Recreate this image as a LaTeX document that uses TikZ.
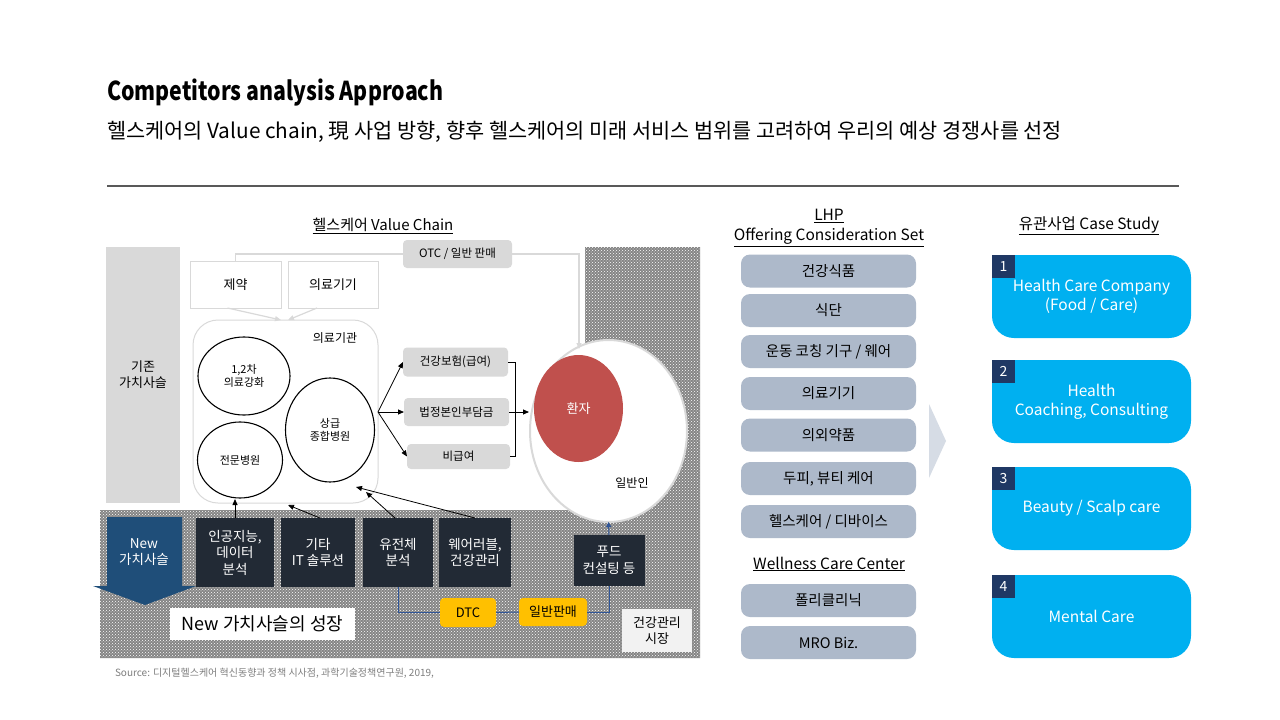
\documentclass[tikz,border=0pt]{standalone}
\usepackage{fontspec}
\setmainfont{Noto Sans CJK KR}
\usetikzlibrary{arrows.meta,patterns,shapes.geometric}
\definecolor{pillc}{HTML}{ADB9CA}
\definecolor{darkbox}{HTML}{222A35}
\definecolor{newblue}{HTML}{1F4E79}
\definecolor{tagc}{HTML}{1F3864}
\definecolor{caseblue}{HTML}{00B0F0}
\definecolor{patred}{HTML}{C0504D}
\definecolor{lgray}{HTML}{D9D9D9}
\definecolor{ylw}{HTML}{FFC000}
\definecolor{srcgray}{HTML}{7F7F7F}
\definecolor{rulec}{HTML}{595959}
\definecolor{hatchc}{HTML}{858585}
\definecolor{navyline}{HTML}{2F5597}
\definecolor{chev}{HTML}{D6DCE5}
\definecolor{mktc}{HTML}{F2F2F2}
\newcommand{\fs}[2]{\fontsize{#1}{#2}\selectfont}
\tikzset{
  every node/.style={inner sep=0pt, outer sep=0pt},
  pill/.style={fill=pillc, rounded corners=9pt, minimum width=175pt, minimum height=33pt, font=\fs{14.5}{17}},
  darkb/.style={fill=darkbox, text=white, align=center, font=\fs{13.5}{16.5}},
  gbox/.style={fill=lgray, rounded corners=4pt, font=\fs{11.5}{14}},
  wbox/.style={draw=lgray, line width=1pt, fill=white, font=\fs{13}{16}},
  ring/.style={draw=black, line width=1.1pt, ellipse, align=center, font=\fs{11}{13.5}},
  casebox/.style={fill=caseblue, rounded corners=22pt, minimum width=199pt, minimum height=83pt, text=white, align=center, font=\fs{15.5}{19}},
  tagbox/.style={fill=tagc, text=white, minimum width=23pt, minimum height=23pt, font=\fs{14}{16}},
  ybox/.style={fill=ylw, rounded corners=4pt, font=\fs{13}{16}},
  hd/.style={font=\fs{15.5}{20}, align=center},
  darr/.style={-{Triangle[length=6pt,width=5pt]}, line width=0.8pt, black},
  garr/.style={-{Triangle[length=6pt,width=5pt]}, line width=1.2pt, lgray},
  narr/.style={-{Triangle[length=5pt,width=5pt]}, line width=1pt, navyline},
  navyl/.style={line width=1pt, navyline},
}
\begin{document}
\begin{tikzpicture}[x=1pt,y=-1pt]
\useasboundingbox (0,0) rectangle (1280,720);
\fill[white] (0,0) rectangle (1280,720);

% titles
\node[anchor=base west, xscale=0.82, font=\bfseries\fs{26}{30}] (title) at (107,100) {Competitors analysis Approach};
\node[anchor=base west, font=\fs{20.8}{25}] (sub) at (107,138) {헬스케어의 Value chain, 現 사업 방향, 향후 헬스케어의 미래 서비스 범위를 고려하여 우리의 예상 경쟁사를 선정};
\draw[rulec, line width=1.5pt] (107,186) -- (1179,186);

% ---------------- value chain ----------------
\node[font=\fs{15}{18}] (vch) at (383,226) {\underline{헬스케어 Value Chain}};

% hatched market area
\path[fill=hatchc, postaction={pattern=crosshatch dots, pattern color=white}]
  (100,510) -- (585,510) -- (585,247) -- (700,247) -- (700,658) -- (100,658) -- cycle;

% existing value chain block
\node[fill=lgray, minimum width=74pt, minimum height=256pt, align=center, font=\fs{13}{16}] (old) at (143,375) {기존\\가치사슬};

% top boxes
\node[wbox, minimum width=91pt, minimum height=47pt] (jeyak) at (235.5,284.5) {제약};
\node[wbox, minimum width=90pt, minimum height=47pt] (medev) at (333,284.5) {의료기기};
\node[gbox, minimum width=109pt, minimum height=28pt] (otc) at (457.5,254) {OTC / 일반 판매};

% medical institution
\node[draw=lgray, line width=1pt, rounded corners=25pt, minimum width=185pt, minimum height=183pt] (medinst) at (285.5,411.5) {};
\node[font=\fs{12}{14}] (medlbl) at (335,338) {의료기관};
\node[ring, minimum width=92pt, minimum height=78pt] (c12) at (244,376) {1,2차\\의료강화};
\node[ring, minimum width=85pt, minimum height=76pt] (spec) at (240,460) {전문병원};
\node[ring, minimum width=89pt, minimum height=104pt] (tert) at (330,430) {상급\\종합병원};

% insurance boxes
\node[gbox, minimum width=105pt, minimum height=29pt] (ins) at (455.5,362) {건강보험(급여)};
\node[gbox, minimum width=105pt, minimum height=28pt] (selfp) at (456.5,412) {법정본인부담금};
\node[gbox, minimum width=103pt, minimum height=25pt] (nonins) at (458.5,456.5) {비급여};

% people
\node[ellipse, fill=white, draw=lgray, line width=2pt, minimum width=157pt, minimum height=182pt] (gen) at (608.5,431) {};
\node[ellipse, fill=patred, minimum width=89pt, minimum height=107pt, text=white, font=\fs{13}{16}] (pat) at (578.5,408.5) {환자};
\node[font=\fs{12}{14}] (genlbl) at (632,483) {일반인};

% flows in the upper part
\draw[lgray, line width=1.2pt] (jeyak.north) |- (otc.west);
\coordinate (otcin) at (579,349);
\draw[garr] (otc.east) -| (otcin);
\coordinate (mc1) at (281,320);
\coordinate (mc2) at (288,320);
\draw[garr] ([xshift=-8pt]jeyak.south) -- (mc1);
\draw[garr] ([xshift=-16pt]medev.south) -- (mc2);

\coordinate (fan) at (378,412);
\draw[darr] (fan) -- (ins.west);
\draw[darr] (fan) -- (selfp.west);
\draw[darr] (fan) -- (nonins.west);
\coordinate (br) at (515,412);
\coordinate (genin) at (529,412);
\draw[line width=0.8pt] (ins.east) -| (br);
\draw[line width=0.8pt] (nonins.east) -| (br);
\draw[line width=0.8pt] (selfp.east) -- (br);
\draw[darr] (br) -- (genin);

% new value chain
\fill[newblue] (107,517) -- (182,517) -- (182,586) -- (196,586) -- (145,605) -- (93,586) -- (107,586) -- cycle;
\node[text=white, align=center, font=\fs{13.5}{16.5}] (newv) at (144,552) {New\\가치사슬};
\node[darkb, minimum width=78pt, minimum height=69pt] (ai) at (235,552.5) {인공지능,\\데이터\\분석};
\node[darkb, minimum width=74pt, minimum height=69pt] (it) at (318,552.5) {기타\\IT 솔루션};
\node[darkb, minimum width=70pt, minimum height=69pt] (gene) at (398,552.5) {유전체\\분석};
\node[darkb, minimum width=72pt, minimum height=69pt] (wear) at (475,552.5) {웨어러블,\\건강관리};
\node[darkb, minimum width=71pt, minimum height=51pt] (food) at (609,560.5) {푸드\\컨설팅 등};

\coordinate (t1) at (235,499);
\coordinate (t2) at (288,505);
\coordinate (t3) at (366,492);
\coordinate (t4) at (356,487);
\draw[darr] (ai.north) -- (t1);
\draw[darr] ([xshift=2pt]it.north) -- (t2);
\draw[darr] ([xshift=-3pt]gene.north) -- (t3);
\draw[darr] (wear.north) -- (t4);
\draw[narr] (food.north) -- (gen.south);

\node[ybox, minimum width=56pt, minimum height=29pt] (dtc) at (468,612.5) {DTC};
\node[ybox, minimum width=68pt, minimum height=28pt] (sales) at (553,612) {일반판매};
\draw[navyl] (gene.south) |- (dtc.west);
\draw[navyl] (dtc.east) -- (sales.west);
\draw[navyl] (sales.east) -| (food.south);

\node[fill=mktc, minimum width=70pt, minimum height=43pt, align=center, font=\fs{13}{16}] (hmkt) at (657,630.5) {건강관리\\시장};
\node[fill=white, minimum width=185pt, minimum height=32pt, font=\fs{18}{21}] (growth) at (262.5,624) {New 가치사슬의 성장};

\node[anchor=west, text=srcgray, font=\fs{10}{12}] (src) at (115,673) {Source: 디지털헬스케어 혁신동향과 정책 시사점, 과학기술정책연구원, 2019,};

% ---------------- offering set ----------------
\node[hd] (lhp) at (829,228) {\underline{LHP}\\\underline{Offering Consideration Set}};
\node[pill] (p1) at (828.5,271) {건강식품};
\node[pill] (p2) at (828.5,310.5) {식단};
\node[pill] (p3) at (828.5,351.5) {운동 코칭 기구 / 웨어};
\node[pill] (p4) at (828.5,393.5) {의료기기};
\node[pill] (p5) at (828.5,435) {의외약품};
\node[pill] (p6) at (828.5,478.5) {두피, 뷰티 케어};
\node[pill] (p7) at (828.5,521.5) {헬스케어 / 디바이스};
\node[hd] (wcc) at (829,564) {\underline{Wellness Care Center}};
\node[pill] (p8) at (828.5,600.5) {폴리클리닉};
\node[pill] (p9) at (828.5,642.5) {MRO Biz.};

\fill[chev] (929,404) -- (946,441) -- (929,478) -- cycle;

% ---------------- case study ----------------
\node[hd] (cs) at (1089,226) {\underline{유관사업 Case Study}};
\node[casebox] (cs1) at (1091.5,296.5) {Health Care Company\\(Food / Care)};
\node[casebox] (cs2) at (1091.5,401.5) {Health\\Coaching, Consulting};
\node[casebox] (cs3) at (1091.5,508.5) {Beauty / Scalp care};
\node[casebox] (cs4) at (1091.5,616.5) {Mental Care};
\node[tagbox] (n1) at (1003.5,266.5) {1};
\node[tagbox] (n2) at (1003.5,371.5) {2};
\node[tagbox] (n3) at (1003.5,478.5) {3};
\node[tagbox] (n4) at (1003.5,586.5) {4};
\end{tikzpicture}
\end{document}
